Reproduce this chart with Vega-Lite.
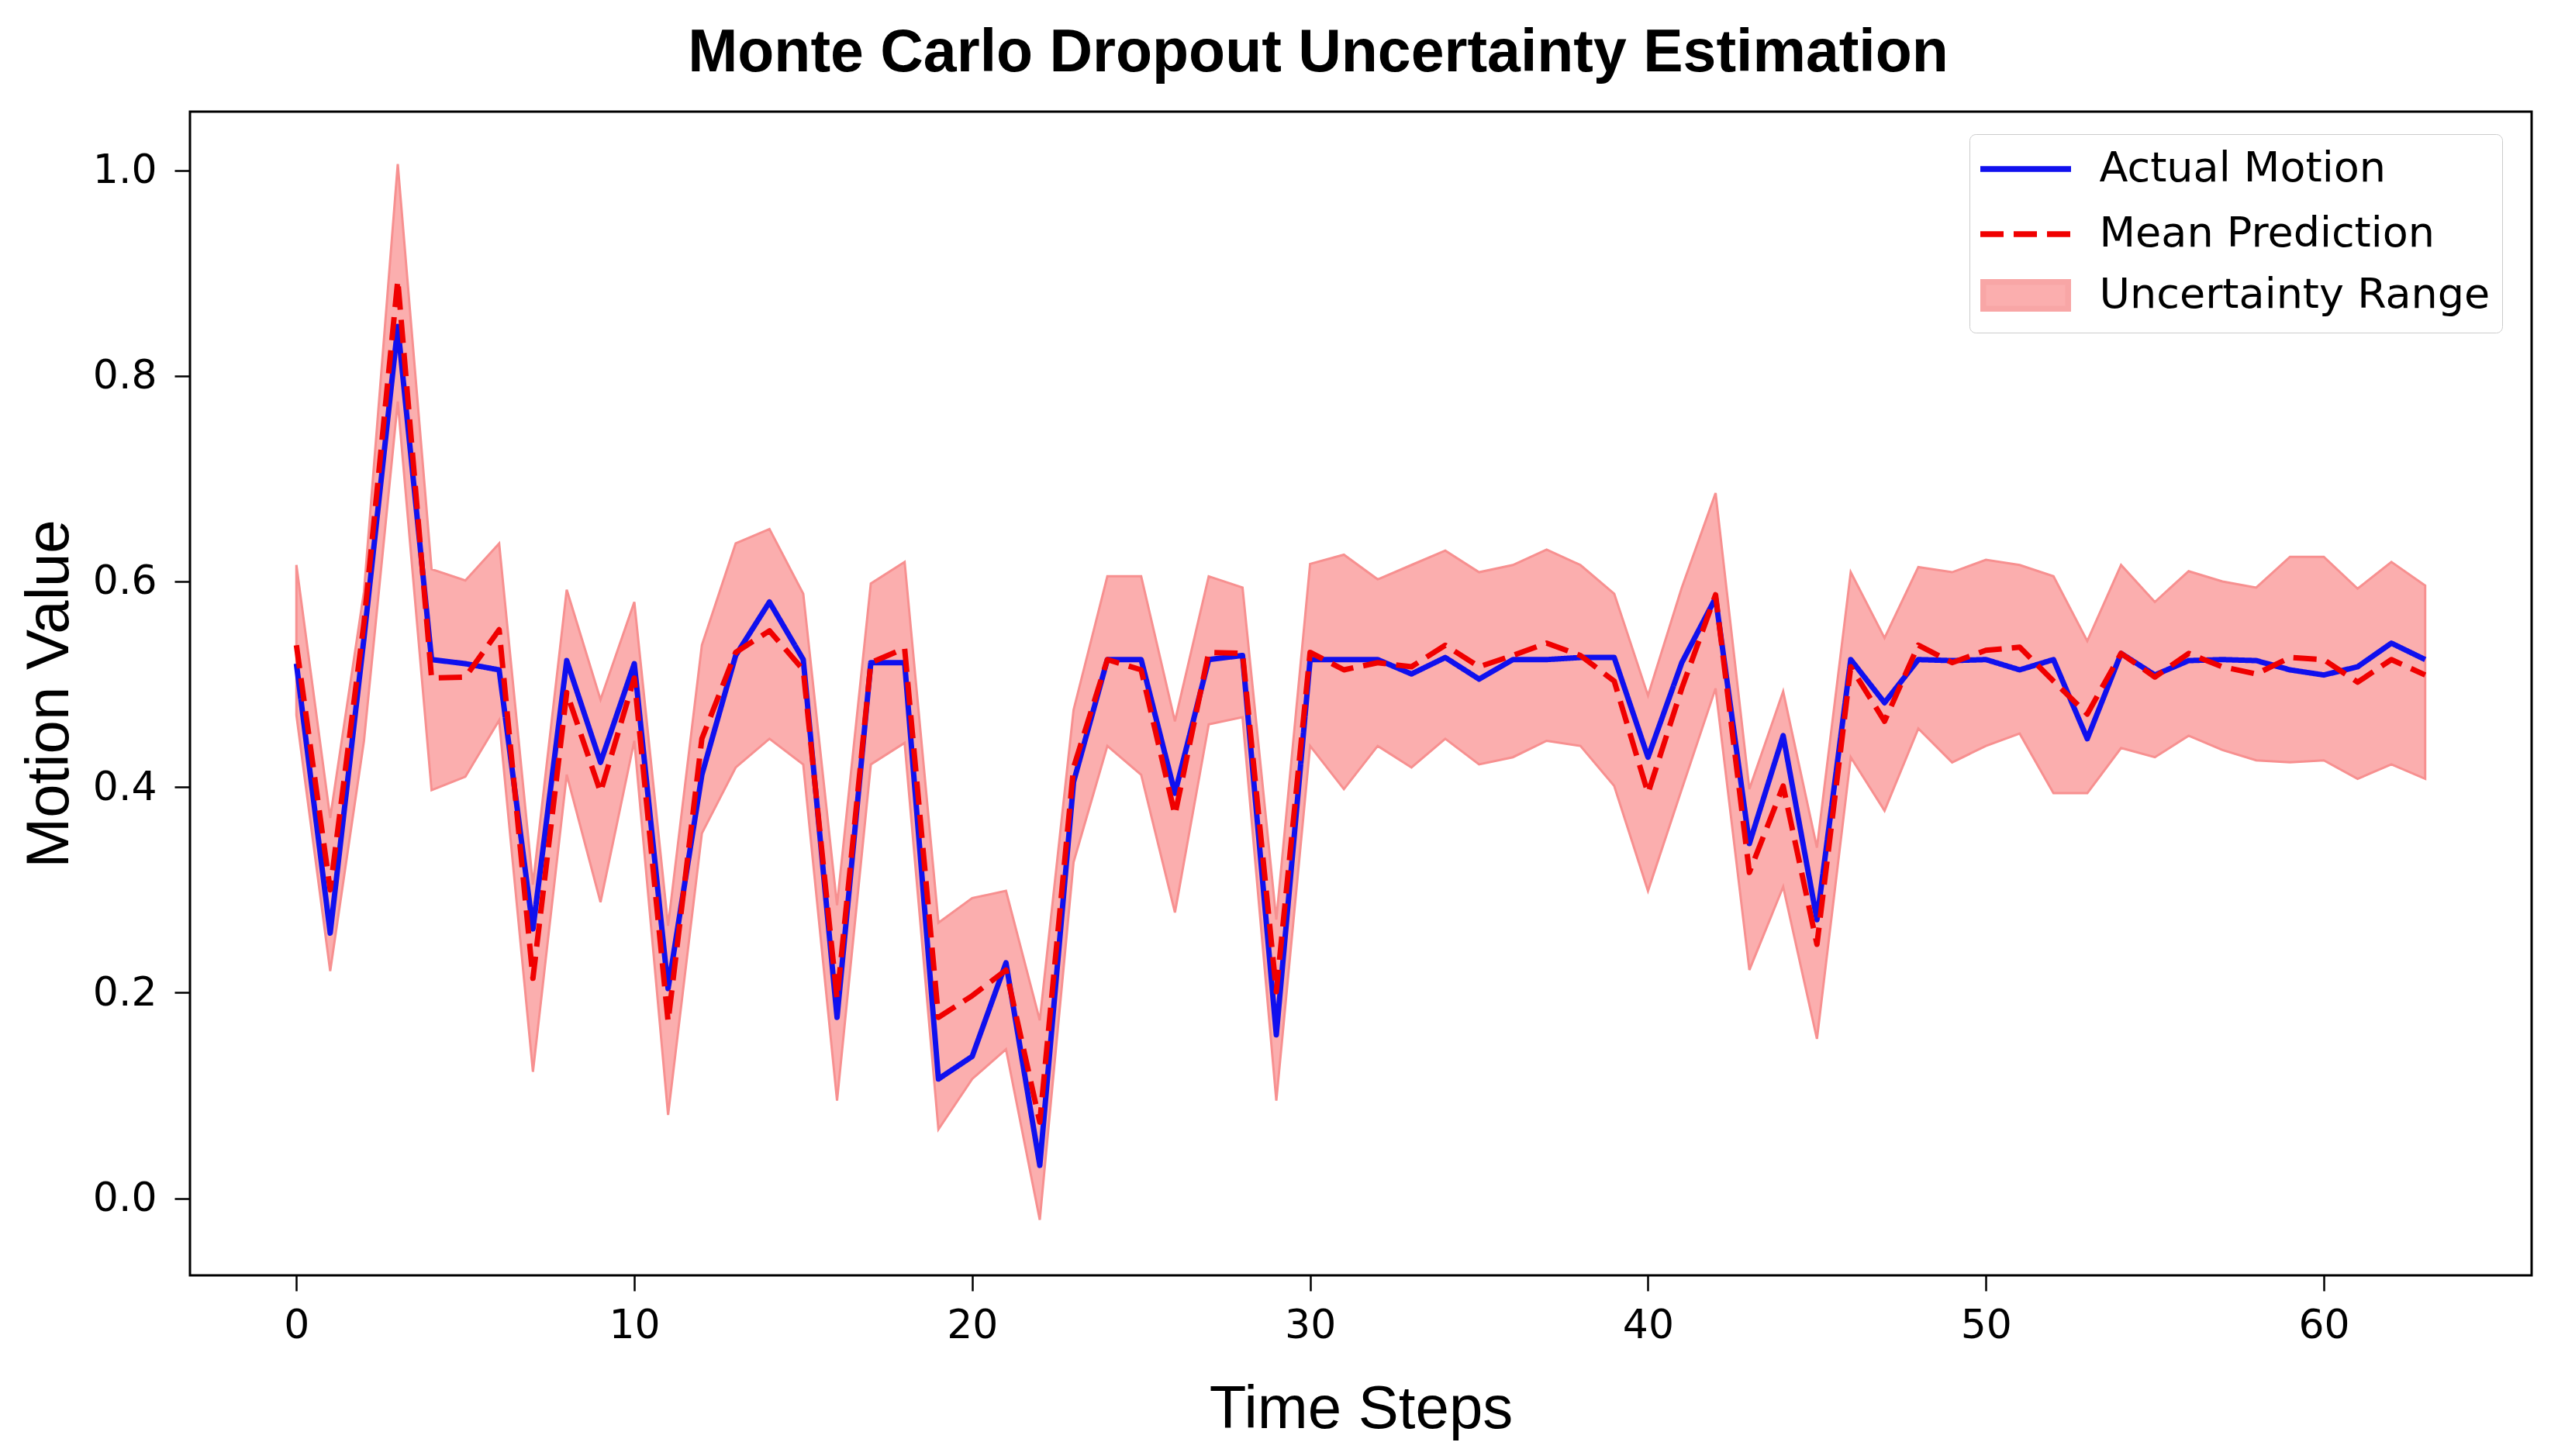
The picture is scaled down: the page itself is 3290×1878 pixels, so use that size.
{
  "$schema": "https://vega.github.io/schema/vega-lite/v6.json",
  "width": 3020,
  "height": 1501,
  "autosize": {"type": "none"},
  "padding": {"left": 245, "top": 144, "right": 25, "bottom": 233},
  "background": "white",
  "title": {
    "text": "Monte Carlo Dropout Uncertainty Estimation",
    "font": "Liberation Sans",
    "fontSize": 77,
    "fontWeight": "bold",
    "color": "black",
    "anchor": "middle",
    "offset": 36,
    "dx": -55
  },
  "config": {
    "view": {"stroke": "black", "strokeWidth": 3},
    "axis": {
      "grid": false,
      "domain": false,
      "tickSize": 20,
      "tickWidth": 2.5,
      "tickColor": "black",
      "labelFont": "DejaVu Sans",
      "labelFontSize": 52,
      "labelColor": "black",
      "titleFont": "Liberation Sans",
      "titleFontSize": 78,
      "titleFontWeight": "normal",
      "titleColor": "black",
      "labelFlush": false
    },
    "legend": {
      "orient": "none",
      "legendX": 2295,
      "padding": 15,
      "rowPadding": -8,
      "symbolSize": 3422,
      "symbolStrokeWidth": 7.5,
      "symbolOffset": 24.5,
      "symbolOpacity": 1,
      "labelOffset": 62,
      "labelFont": "DejaVu Sans",
      "labelFontSize": 54,
      "labelColor": "black",
      "labelLimit": 2000
    }
  },
  "data": {
    "values": [
      {"t": 0, "actual": 0.520, "mean": 0.538, "lower": 0.470, "upper": 0.616},
      {"t": 1, "actual": 0.258, "mean": 0.300, "lower": 0.221, "upper": 0.370},
      {"t": 2, "actual": 0.545, "mean": 0.560, "lower": 0.445, "upper": 0.590},
      {"t": 3, "actual": 0.848, "mean": 0.893, "lower": 0.775, "upper": 1.006},
      {"t": 4, "actual": 0.524, "mean": 0.506, "lower": 0.397, "upper": 0.612},
      {"t": 5, "actual": 0.520, "mean": 0.507, "lower": 0.410, "upper": 0.601},
      {"t": 6, "actual": 0.514, "mean": 0.553, "lower": 0.465, "upper": 0.637},
      {"t": 7, "actual": 0.262, "mean": 0.214, "lower": 0.123, "upper": 0.305},
      {"t": 8, "actual": 0.523, "mean": 0.492, "lower": 0.412, "upper": 0.592},
      {"t": 9, "actual": 0.424, "mean": 0.395, "lower": 0.288, "upper": 0.485},
      {"t": 10, "actual": 0.520, "mean": 0.506, "lower": 0.445, "upper": 0.580},
      {"t": 11, "actual": 0.204, "mean": 0.172, "lower": 0.081, "upper": 0.265},
      {"t": 12, "actual": 0.412, "mean": 0.447, "lower": 0.355, "upper": 0.538},
      {"t": 13, "actual": 0.528, "mean": 0.531, "lower": 0.419, "upper": 0.637},
      {"t": 14, "actual": 0.580, "mean": 0.552, "lower": 0.447, "upper": 0.651},
      {"t": 15, "actual": 0.524, "mean": 0.514, "lower": 0.422, "upper": 0.588},
      {"t": 16, "actual": 0.176, "mean": 0.194, "lower": 0.095, "upper": 0.285},
      {"t": 17, "actual": 0.521, "mean": 0.521, "lower": 0.422, "upper": 0.598},
      {"t": 18, "actual": 0.521, "mean": 0.535, "lower": 0.443, "upper": 0.619},
      {"t": 19, "actual": 0.116, "mean": 0.176, "lower": 0.067, "upper": 0.268},
      {"t": 20, "actual": 0.138, "mean": 0.197, "lower": 0.116, "upper": 0.292},
      {"t": 21, "actual": 0.229, "mean": 0.222, "lower": 0.145, "upper": 0.299},
      {"t": 22, "actual": 0.032, "mean": 0.074, "lower": -0.021, "upper": 0.173},
      {"t": 23, "actual": 0.405, "mean": 0.419, "lower": 0.327, "upper": 0.475},
      {"t": 24, "actual": 0.524, "mean": 0.524, "lower": 0.440, "upper": 0.605},
      {"t": 25, "actual": 0.524, "mean": 0.514, "lower": 0.412, "upper": 0.605},
      {"t": 26, "actual": 0.394, "mean": 0.373, "lower": 0.278, "upper": 0.464},
      {"t": 27, "actual": 0.524, "mean": 0.531, "lower": 0.461, "upper": 0.605},
      {"t": 28, "actual": 0.528, "mean": 0.530, "lower": 0.468, "upper": 0.594},
      {"t": 29, "actual": 0.159, "mean": 0.201, "lower": 0.095, "upper": 0.271},
      {"t": 30, "actual": 0.524, "mean": 0.531, "lower": 0.440, "upper": 0.617},
      {"t": 31, "actual": 0.524, "mean": 0.514, "lower": 0.398, "upper": 0.626},
      {"t": 32, "actual": 0.524, "mean": 0.521, "lower": 0.440, "upper": 0.602},
      {"t": 33, "actual": 0.510, "mean": 0.517, "lower": 0.419, "upper": 0.616},
      {"t": 34, "actual": 0.526, "mean": 0.538, "lower": 0.447, "upper": 0.630},
      {"t": 35, "actual": 0.505, "mean": 0.517, "lower": 0.422, "upper": 0.609},
      {"t": 36, "actual": 0.524, "mean": 0.528, "lower": 0.429, "upper": 0.616},
      {"t": 37, "actual": 0.524, "mean": 0.540, "lower": 0.445, "upper": 0.631},
      {"t": 38, "actual": 0.526, "mean": 0.528, "lower": 0.440, "upper": 0.616},
      {"t": 39, "actual": 0.526, "mean": 0.503, "lower": 0.401, "upper": 0.588},
      {"t": 40, "actual": 0.429, "mean": 0.394, "lower": 0.299, "upper": 0.489},
      {"t": 41, "actual": 0.521, "mean": 0.496, "lower": 0.398, "upper": 0.594},
      {"t": 42, "actual": 0.584, "mean": 0.587, "lower": 0.496, "upper": 0.686},
      {"t": 43, "actual": 0.345, "mean": 0.317, "lower": 0.222, "upper": 0.398},
      {"t": 44, "actual": 0.450, "mean": 0.401, "lower": 0.303, "upper": 0.493},
      {"t": 45, "actual": 0.271, "mean": 0.247, "lower": 0.155, "upper": 0.341},
      {"t": 46, "actual": 0.524, "mean": 0.517, "lower": 0.429, "upper": 0.609},
      {"t": 47, "actual": 0.482, "mean": 0.464, "lower": 0.377, "upper": 0.545},
      {"t": 48, "actual": 0.524, "mean": 0.538, "lower": 0.457, "upper": 0.614},
      {"t": 49, "actual": 0.523, "mean": 0.521, "lower": 0.424, "upper": 0.609},
      {"t": 50, "actual": 0.524, "mean": 0.533, "lower": 0.440, "upper": 0.621},
      {"t": 51, "actual": 0.514, "mean": 0.536, "lower": 0.452, "upper": 0.616},
      {"t": 52, "actual": 0.524, "mean": 0.503, "lower": 0.394, "upper": 0.605},
      {"t": 53, "actual": 0.447, "mean": 0.471, "lower": 0.394, "upper": 0.542},
      {"t": 54, "actual": 0.530, "mean": 0.530, "lower": 0.438, "upper": 0.616},
      {"t": 55, "actual": 0.509, "mean": 0.507, "lower": 0.429, "upper": 0.580},
      {"t": 56, "actual": 0.523, "mean": 0.530, "lower": 0.450, "upper": 0.610},
      {"t": 57, "actual": 0.524, "mean": 0.517, "lower": 0.436, "upper": 0.600},
      {"t": 58, "actual": 0.523, "mean": 0.510, "lower": 0.426, "upper": 0.594},
      {"t": 59, "actual": 0.514, "mean": 0.526, "lower": 0.424, "upper": 0.624},
      {"t": 60, "actual": 0.509, "mean": 0.524, "lower": 0.426, "upper": 0.624},
      {"t": 61, "actual": 0.517, "mean": 0.502, "lower": 0.408, "upper": 0.593},
      {"t": 62, "actual": 0.540, "mean": 0.524, "lower": 0.422, "upper": 0.619},
      {"t": 63, "actual": 0.524, "mean": 0.509, "lower": 0.408, "upper": 0.596}
    ]
  },
  "encoding": {
    "x": {
      "field": "t",
      "type": "quantitative",
      "scale": {"domain": [-3.15, 66.15], "nice": false, "zero": false},
      "axis": {"values": [0, 10, 20, 30, 40, 50, 60], "title": "Time Steps", "labelPadding": 19, "titlePadding": 44}
    }
  },
  "layer": [
    {
      "mark": {"type": "area", "stroke": "#f79090", "strokeWidth": 3, "opacity": 1},
      "encoding": {
        "y": {
          "field": "lower",
          "type": "quantitative",
          "scale": {"domain": [-0.075, 1.057], "nice": false, "zero": false},
          "axis": {"values": [0, 0.2, 0.4, 0.6, 0.8, 1.0], "format": ".1f", "title": "Motion Value", "labelPadding": 23, "titlePadding": 16}
        },
        "y2": {"field": "upper"},
        "fill": {
          "datum": "Uncertainty Range",
          "type": "nominal",
          "scale": {"domain": ["Uncertainty Range"], "range": ["#fbaeae"]},
          "legend": {
            "title": " ",
            "titleFontSize": 1,
            "titlePadding": 159,
            "legendY": 29,
            "symbolType": "M-1.872,-0.59H1.872V0.59H-1.872Z",
            "symbolStrokeColor": "#f8a6a6",
            "strokeColor": "#cccccc",
            "cornerRadius": 8
          }
        }
      }
    },
    {
      "mark": {"type": "line", "strokeWidth": 7, "strokeJoin": "round"},
      "encoding": {
        "y": {"field": "actual", "type": "quantitative"},
        "color": {
          "datum": "Actual Motion",
          "type": "nominal",
          "scale": {"domain": ["Actual Motion", "Mean Prediction"], "range": ["#1010ee", "#f00000"]},
          "legend": {
            "title": null,
            "legendY": 26,
            "rowPadding": 24,
            "symbolType": "M-2,0H2"
          }
        },
        "strokeDash": {
          "datum": "Actual Motion",
          "type": "nominal",
          "scale": {"domain": ["Actual Motion", "Mean Prediction"], "range": [[1, 0], [30, 13]]},
          "legend": {
            "title": null,
            "legendY": 26,
            "rowPadding": 24,
            "symbolType": "M-2,0H2"
          }
        }
      }
    },
    {
      "mark": {"type": "line", "strokeWidth": 7, "strokeJoin": "round"},
      "encoding": {
        "y": {"field": "mean", "type": "quantitative"},
        "color": {"datum": "Mean Prediction", "type": "nominal"},
        "strokeDash": {"datum": "Mean Prediction", "type": "nominal"}
      }
    }
  ]
}
